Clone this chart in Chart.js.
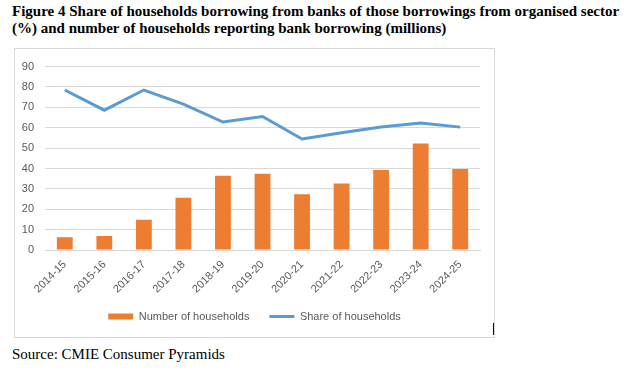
<!DOCTYPE html>
<html>
<head>
<meta charset="utf-8">
<script src="https://cdn.jsdelivr.net/npm/chart.js@4"></script>
<style>
  body { margin: 0; background: #fff; width: 629px; height: 369px; position: relative; overflow: hidden; }
  #title { position: absolute; left: 12px; top: 3px; width: 612px; font-family: "Liberation Serif", serif; font-weight: bold; font-size: 15px; line-height: 17px; color: #000; }
  #box { position: absolute; left: 14px; top: 48px; width: 479px; height: 288px; border: 1px solid #d9d9d9; }
  #source { position: absolute; left: 12px; top: 346px; font-family: "Liberation Serif", serif; font-size: 15px; color: #000; }
  #mark { position: absolute; left: 493px; top: 323px; width: 1px; height: 12px; background: #000; }
</style>
</head>
<body>
<div id="title">Figure 4 Share of households borrowing from banks of those borrowings from organised sector (%) and number of households reporting bank borrowing (millions)</div>
<div id="box"><canvas id="myChart" width="479" height="288"></canvas></div>
<div id="mark"></div>
<div id="source">Source: CMIE Consumer Pyramids</div>
<script>
let years = ['2014-15', '2015-16', '2016-17', '2017-18', '2018-19', '2019-20', '2020-21', '2021-22', '2022-23', '2023-24', '2024-25']
let numberOfHouseholds = [6.2, 6.9, 14.9, 25.6, 36.4, 37.4, 27.3, 32.6, 39.3, 52.3, 39.8]
let shareOfHouseholds = [78.5, 68.6, 78.5, 71.6, 62.8, 65.5, 54.5, 57.5, 60.4, 62.3, 60.3]

let tickFont = { family: 'Liberation Sans', size: 11 }

// nudge the legend a bit, Excel puts it slightly off the plot centre
let legendNudge = {
    id: 'legendNudge',
    beforeDraw: chart => {
        let lg = chart.legend
        lg.left += 7
        lg.right += 7
        lg.top -= 5
        lg.bottom -= 5
    }
}

var ctx = document.getElementById('myChart').getContext('2d');
var chart = new Chart(ctx, {
    type: 'bar',
    data: {
        labels: years,
        datasets: [{
            type: 'line',
            label: 'Share of households',
            borderColor: '#5B9BD5',
            backgroundColor: '#5B9BD5',
            borderWidth: 3,
            pointRadius: 0,
            tension: 0,
            pointStyle: 'line',
            data: shareOfHouseholds,
            order: 1
        }, {
            label: 'Number of households',
            backgroundColor: '#ED7D31',
            borderWidth: 0,
            categoryPercentage: 1,
            barPercentage: 0.4,
            pointStyle: 'rect',
            data: numberOfHouseholds,
            order: 2
        }]
    },
    plugins: [legendNudge],
    options: {
        responsive: false,
        animation: { duration: 0 },
        layout: { padding: { left: 0, right: 14, top: 13, bottom: 0 } },
        plugins: {
            tooltip: { enabled: false },
            legend: {
                position: 'bottom',
                reverse: true,
                labels: {
                    usePointStyle: true,
                    pointStyleWidth: 25,
                    boxHeight: 6,
                    padding: 20,
                    color: '#595959',
                    font: tickFont
                }
            }
        },
        scales: {
            x: {
                grid: { display: false, drawTicks: false },
                border: { color: '#d9d9d9' },
                ticks: { color: '#595959', font: tickFont, minRotation: 45, maxRotation: 45, padding: 8 },
                afterFit: s => { s.height = 46 }
            },
            y: {
                min: 0,
                max: 90,
                grid: { color: '#d9d9d9', drawTicks: false },
                border: { display: false },
                ticks: { stepSize: 10, color: '#595959', font: tickFont, padding: 11 },
                afterFit: s => { s.width = 30 }
            }
        }
    }
});
</script>
</body>
</html>
